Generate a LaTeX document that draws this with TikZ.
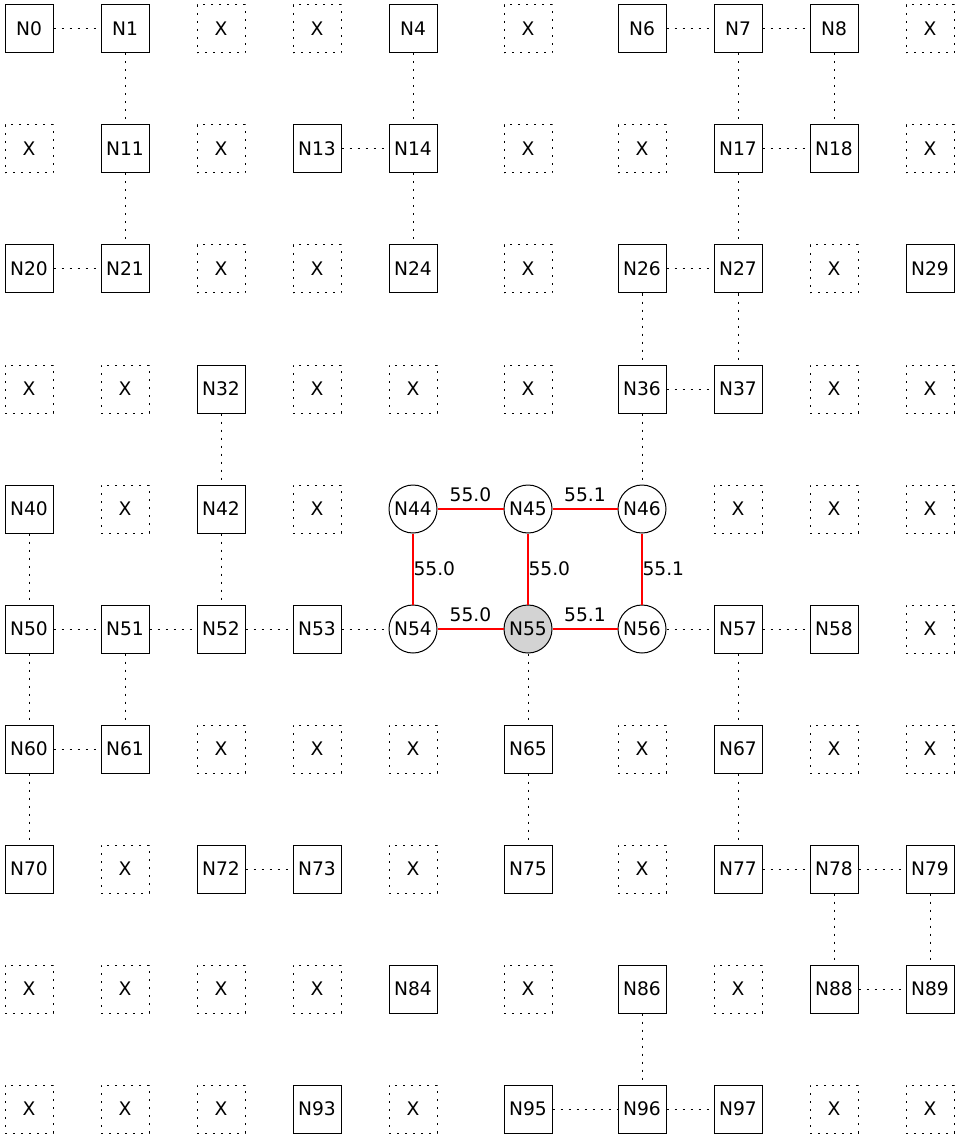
\documentclass[tikz,border=0pt]{standalone}
\usepackage{fontspec}
\setmainfont{DejaVu Sans}
\usetikzlibrary{positioning}
\definecolor{hubfill}{HTML}{D3D3D3}

\tikzset{
  cell/.style={draw, line width=1pt, minimum size=48pt, inner sep=0pt},
  box/.style={cell, rectangle},
  blank/.style={cell, rectangle, dash pattern=on 2pt off 6pt},
  hub/.style={cell, circle},
  link/.style={line width=1pt, dash pattern=on 2pt off 6pt},
  route/.style={red, line width=2pt},
  weight/.style={text=black, inner sep=1pt},
}

\begin{document}
\begin{tikzpicture}[x=1pt, y=1pt, font=\fontsize{18.67}{22}\selectfont]
   \useasboundingbox (0,0) rectangle (960,-1139);
   % grid lines of the layout
   \foreach \cx/\px in {0/29,1/125,2/221,3/317,4/413,5/528,6/642,7/738,8/834,9/930}
      \coordinate (col\cx) at (\px,0);
   \foreach \ry in {0,...,9}
      \coordinate (row\ry) at (0,{-29-120*\ry});

   % plain nodes
   \foreach \n in {0,1,4,6,7,8,11,13,14,17,18,20,21,24,26,27,29,32,36,37,40,42,
                   50,51,52,53,57,58,60,61,65,67,70,72,73,75,77,78,79,84,86,88,89,93,95,96,97} {
      \pgfmathtruncatemacro\cx{mod(\n,10)}
      \pgfmathtruncatemacro\ry{div(\n,10)}
      \node[box] (n\n) at (col\cx |- row\ry) {N\n};
   }
   % empty cells
   \foreach \n in {2,3,5,9,10,12,15,16,19,22,23,25,28,30,31,33,34,35,38,39,41,43,47,48,49,
                   59,62,63,64,66,68,69,71,74,76,80,81,82,83,85,87,90,91,92,94,98,99} {
      \pgfmathtruncatemacro\cx{mod(\n,10)}
      \pgfmathtruncatemacro\ry{div(\n,10)}
      \node[blank] (x\n) at (col\cx |- row\ry) {X};
   }
   % route nodes
   \node[hub] (n44) at (col4 |- row4) {N44};
   \node[hub] (n45) at (col5 |- row4) {N45};
   \node[hub] (n46) at (col6 |- row4) {N46};
   \node[hub] (n54) at (col4 |- row5) {N54};
   \node[hub, fill=hubfill] (n55) at (col5 |- row5) {N55};
   \node[hub] (n56) at (col6 |- row5) {N56};

    \path[link]
    (n0) edge (n1)   (n1) edge (n11)  (n4) edge (n14)
    (n6) edge (n7)   (n7) edge (n8)   (n7) edge (n17)  (n8) edge (n18)
    (n13) edge (n14) (n14) edge (n24) (n17) edge (n18)
    (n11) edge (n21) (n20) edge (n21) (n17) edge (n27)
    (n26) edge (n27) (n26) edge (n36) (n27) edge (n37) (n36) edge (n37)
    (n32) edge (n42) (n36) edge (n46) (n40) edge (n50) (n42) edge (n52)
    (n50) edge (n51) (n51) edge (n52) (n52) edge (n53) (n53) edge (n54)
    (n51) edge (n61) (n50) edge (n60) (n60) edge (n61) (n60) edge (n70)
    (n55) edge (n65) (n65) edge (n75)
    (n56) edge (n57) (n57) edge (n58) (n57) edge (n67) (n67) edge (n77)
    (n72) edge (n73) (n77) edge (n78) (n78) edge (n79)
    (n78) edge (n88) (n79) edge (n89) (n88) edge (n89)
    (n86) edge (n96) (n95) edge (n96) (n96) edge (n97);

    \path[route]
    (n44) edge node[weight, above=5pt] {55.0} (n45)
    (n45) edge node[weight, above=5pt] {55.1} (n46)
    (n54) edge node[weight, above=5pt] {55.0} (n55)
    (n55) edge node[weight, above=5pt] {55.1} (n56)
    (n44) edge node[weight, right=-1.5pt] {55.0} (n54)
    (n45) edge node[weight, right=-1.5pt] {55.0} (n55)
    (n46) edge node[weight, right=-1.5pt] {55.1} (n56);
\end{tikzpicture}
\end{document}
